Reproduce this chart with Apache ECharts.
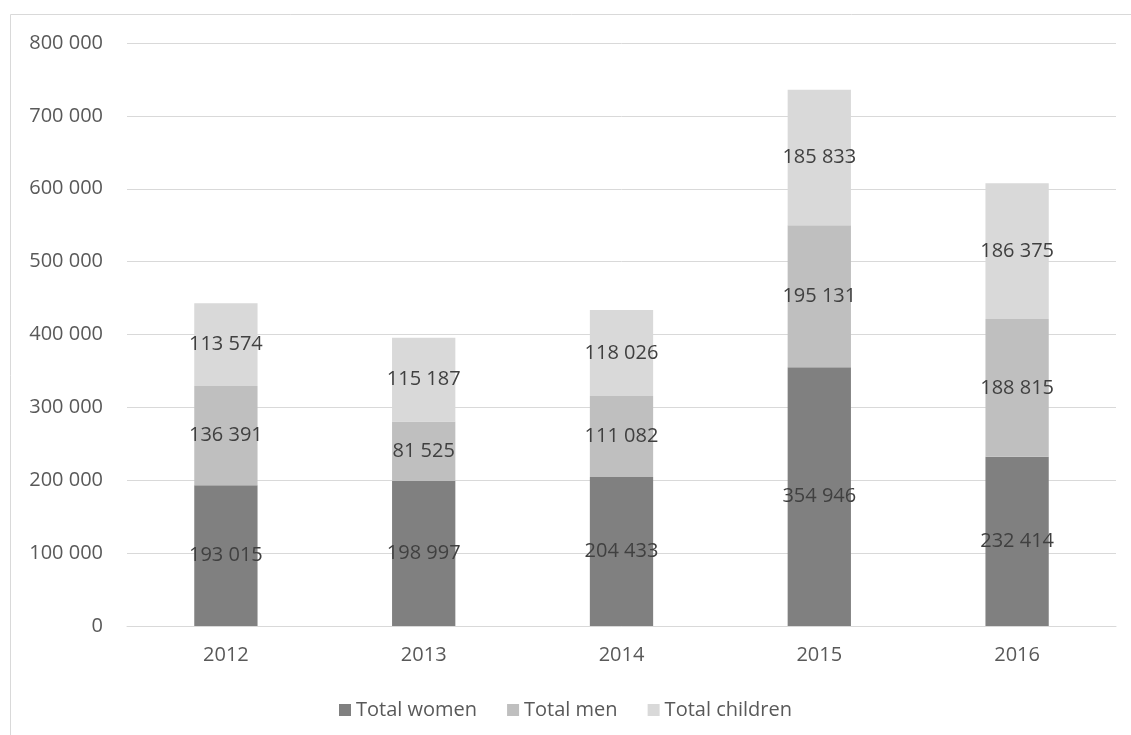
<!DOCTYPE html>
<html><head><meta charset="utf-8">
<script src="https://cdn.jsdelivr.net/npm/echarts@6/dist/echarts.min.js"></script>
<style>html,body{margin:0;padding:0;background:#fff}#c{width:1131px;height:735px}</style>
</head><body><div id="c"></div>
<script>
const categories = ['2012','2013','2014','2015','2016'];
const women = [193015, 198997, 204433, 354946, 232414];
const men = [136391, 81525, 111082, 195131, 188815];
const children = [113574, 115187, 118026, 185833, 186375];
const yTicks = [0,100000,200000,300000,400000,500000,600000,700000,800000];

function fmt(v){ return String(v).replace(/\B(?=(\d{3})+(?!\d))/g,' '); }
const FONT = '"Open Sans", "Liberation Sans", sans-serif';
const FS = 20;
const lbl = {show:true, position:'inside', color:'#404040', fontSize:FS, fontFamily:FONT,
  formatter:p=>fmt(p.value)};

const chart = echarts.init(document.getElementById('c'));
chart.setOption({
  animation:false,
  graphic:[{type:'rect', shape:{x:10.5,y:14.5,width:1140,height:740},
    style:{fill:'none', stroke:'#d9d9d9', lineWidth:1}, silent:true, z:-1}],
  grid:{left:127, right:15, top:43, bottom:109},
  legend:{bottom:10, left:'center', itemWidth:12, itemHeight:12, itemGap:30,
    icon:'rect', textStyle:{color:'#595959', fontSize:FS, fontFamily:FONT},
    data:['Total women','Total men','Total children']},
  xAxis:{type:'category', data:categories,
    axisLine:{show:true, lineStyle:{color:'#d9d9d9', width:1}},
    axisTick:{show:false},
    axisLabel:{color:'#595959', fontSize:FS, fontFamily:FONT, margin:19}},
  yAxis:{type:'value', min:yTicks[0], max:yTicks[yTicks.length-1], interval:100000,
    axisLine:{show:false}, axisTick:{show:false},
    splitLine:{lineStyle:{color:'#d9d9d9', width:1}},
    axisLabel:{color:'#595959', fontSize:FS, fontFamily:FONT, margin:24, formatter:v=>fmt(v)}},
  series:[
    {name:'Total women', type:'bar', stack:'t', data:women, barWidth:'32%',
     itemStyle:{color:'#808080'}, label:lbl},
    {name:'Total men', type:'bar', stack:'t', data:men,
     itemStyle:{color:'#bfbfbf'}, label:lbl},
    {name:'Total children', type:'bar', stack:'t', data:children,
     itemStyle:{color:'#d9d9d9'}, label:lbl}
  ]
});
</script></body></html>
